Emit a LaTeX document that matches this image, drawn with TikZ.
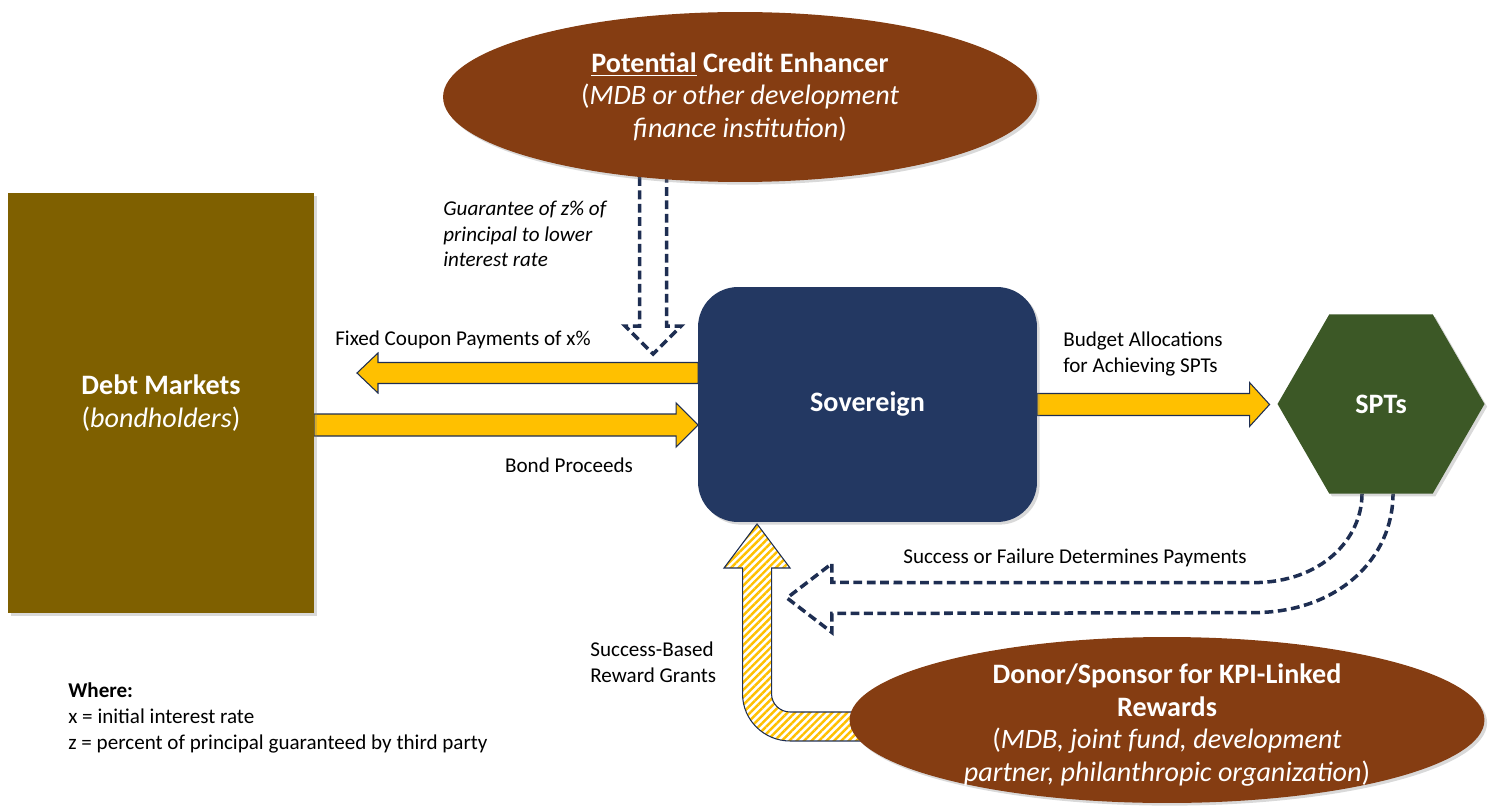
\documentclass[tikz,border=0pt]{standalone}
\usepackage{fontspec}
\setmainfont{Carlito}
\usepackage{tikz}
\usetikzlibrary{
	arrows.meta,
	calc,
	patterns.meta,
	backgrounds,
	positioning,
	shapes.geometric,
	shadows
}
\definecolor{DebtGold}{RGB}{127,96,0}
\definecolor{SovNavy}{RGB}{35,56,98}
\definecolor{SptGreen}{RGB}{60,88,38}
\definecolor{Rust}{RGB}{133,61,18}
\definecolor{ArrowGold}{RGB}{255,192,0}
\definecolor{DashNavy}{RGB}{30,46,82}

\begin{document}
\begin{tikzpicture}[x=0.02cm, y=-0.02cm,
		box/.style={text=white, align=center, font=\fontsize{16}{18.5}\selectfont, inner sep=0pt, outer sep=0pt,
			drop shadow={opacity=0.3, shadow xshift=1.5pt, shadow yshift=-1.5pt}},
		oval/.style={box, ellipse, fill=Rust},
		txt/.style={text=white, align=center, font=\fontsize{16}{18.7}\selectfont, inner sep=0pt},
		lbl/.style={text=black, font=\fontsize{12}{14.7}\selectfont, inner sep=0pt},
		goldarrow/.style={fill=ArrowGold, draw=DashNavy, line width=0.6pt},
		hatcharrow/.style={draw=DashNavy, line width=0.6pt,
			pattern={Lines[angle=45, distance=3pt, line width=1.4pt]}, pattern color=ArrowGold},
		dasharrow/.style={draw=DashNavy, line width=2pt, dash pattern=on 5pt off 2.6pt}]
		\useasboundingbox (0,0) rectangle (1496,807);
		
		% 方框
		\node[box, fill=DebtGold, minimum width=6.12cm, minimum height=8.4cm] (debt) at (161,403)
			{\textbf{Debt Markets}\\(\textit{bondholders})};
		\node[box, fill=SovNavy, rounded corners=0.8cm, minimum width=6.78cm, minimum height=4.7cm] (sov) at (867.5,404.5)
			{\textbf{Sovereign}};
		\node[box, fill=SptGreen, regular polygon, regular polygon sides=6, minimum size=4.14cm] (spt) at (1381,404)
			{\textbf{SPTs}};
		
		% 椭圆
		\node[oval, minimum width=11.88cm, minimum height=3.4cm] (enh) at (740,97)
			{\textbf{\underline{Potential} Credit Enhancer}\\(\textit{MDB or other development}\\\textit{finance institution})};
		\node[oval, minimum width=12.7cm, minimum height=3.32cm] (donor) at (1167,720) {};
		\node[txt] (donortxt) at ($(donor.center)+(0,5)$)
			{\textbf{Donor/Sponsor for KPI-Linked}\\\textbf{Rewards}\\(\textit{MDB, joint fund, development}\\\textit{partner, philanthropic organization})};
		
		% 文字
		\node[lbl, font=\fontsize{12}{14.7}\selectfont\itshape, align=left, anchor=west] (gtxt) at (443,234)
			{Guarantee of z\% of\\principal to lower\\interest rate};
		\node[lbl] (cptxt) at (463,340) {Fixed Coupon Payments of x\%};
		\node[lbl] (bptxt) at (569,465) {Bond Proceeds};
		\node[lbl, align=left, anchor=west] (batxt) at (1063,354) {Budget Allocations\\for Achieving SPTs};
		\node[lbl] (sftxt) at (1075,558) {Success or Failure Determines Payments};
		\node[lbl, align=left, anchor=west] (grtxt) at (590,662) {Success-Based\\Reward Grants};
		\node[lbl, align=left, anchor=west] (legend) at (68,718)
			{\textbf{Where:}\\x = initial interest rate\\z = percent of principal guaranteed by third party};
		
		\begin{scope}[on background layer]
			% 票息 x%
			\coordinate (cpR) at ($(sov.west)+(0,-31.5)$);
			\coordinate (cpL) at ($(debt.east |- cpR)+(43,0)$);
			\draw[goldarrow] ($(cpR)+(0,-10.5)$) -- ($(cpL)+(21,-10.5)$) -- ($(cpL)+(21,-20)$) -- (cpL)
				-- ($(cpL)+(21,20)$) -- ($(cpL)+(21,10.5)$) -- ($(cpR)+(0,10.5)$) -- cycle;
			
			% 债券收入
			\coordinate (bpL) at ($(debt.east)+(0,22)$);
			\coordinate (bpR) at (sov.west |- bpL);
			\draw[goldarrow] ($(bpL)+(0,-11)$) -- ($(bpR)+(-22,-11)$) -- ($(bpR)+(-22,-22)$) -- (bpR)
				-- ($(bpR)+(-22,22)$) -- ($(bpR)+(-22,11)$) -- ($(bpL)+(0,11)$) -- cycle;
			
			% 预算
			\coordinate (baL) at (sov.east);
			\coordinate (baR) at ($(spt.west |- baL)+(-8,0)$);
			\draw[goldarrow] ($(baL)+(0,-11)$) -- ($(baR)+(-20,-11)$) -- ($(baR)+(-20,-22)$) -- (baR)
				-- ($(baR)+(-20,22)$) -- ($(baR)+(-20,11)$) -- ($(baL)+(0,11)$) -- cycle;
			
			% 担保 (虚线)
			\coordinate (gTip) at ($(sov.north west)+(-45,67)$);
			\coordinate (gTop) at (gTip |- enh.center);
			\draw[dasharrow] ($(gTop)+(-13.5,0)$) -- ($(gTip)+(-13.5,-28)$) -- ($(gTip)+(-28,-28)$) -- (gTip)
				-- ($(gTip)+(28,-28)$) -- ($(gTip)+(13.5,-28)$) -- ($(gTop)+(13.5,0)$);
			
			% 成败 (虚线, 弯)
			\coordinate (sfA) at ($(spt.south)+(-19,0)$);
			\coordinate (sfB) at ($(spt.south)+(12,0)$);
			\coordinate (sfTip) at ($(sov.south east)+(-250,76)$);
			\draw[dasharrow] (sfA) .. controls ($(sfA)+(0,45)$) and ($(sfA)+(-40,89)$) .. ($(sfA)+(-109,89)$)
				-- ($(sfTip)+(45,-15.5)$) -- ($(sfTip)+(45,-34.5)$) -- (sfTip) -- ($(sfTip)+(45,34.5)$)
				-- ($(sfTip)+(45,15.5)$) -- ($(sfB)+(-140,119)$)
				.. controls ($(sfB)+(-55,119)$) and ($(sfB)+(0,65)$) .. (sfB);
			
			% 奖励 (斜纹)
			\coordinate (grTip) at ($(sov.south west)+(59,2)$);
			\draw[hatcharrow] (grTip) -- ($(grTip)+(33,44)$) -- ($(grTip)+(14.5,44)$) -- ($(grTip)+(14.5,170)$)
				.. controls ($(grTip)+(14.5,180)$) and ($(grTip)+(23,188)$) .. ($(grTip)+(33,188)$)
				-- ($(donor.center |- grTip)+(0,188)$) -- ($(donor.center |- grTip)+(0,217)$) -- ($(grTip)+(33,217)$)
				.. controls ($(grTip)+(7,217)$) and ($(grTip)+(-14.5,196)$) .. ($(grTip)+(-14.5,170)$)
				-- ($(grTip)+(-14.5,44)$) -- ($(grTip)+(-33,44)$) -- cycle;
		\end{scope}
	\end{tikzpicture}
\end{document}
